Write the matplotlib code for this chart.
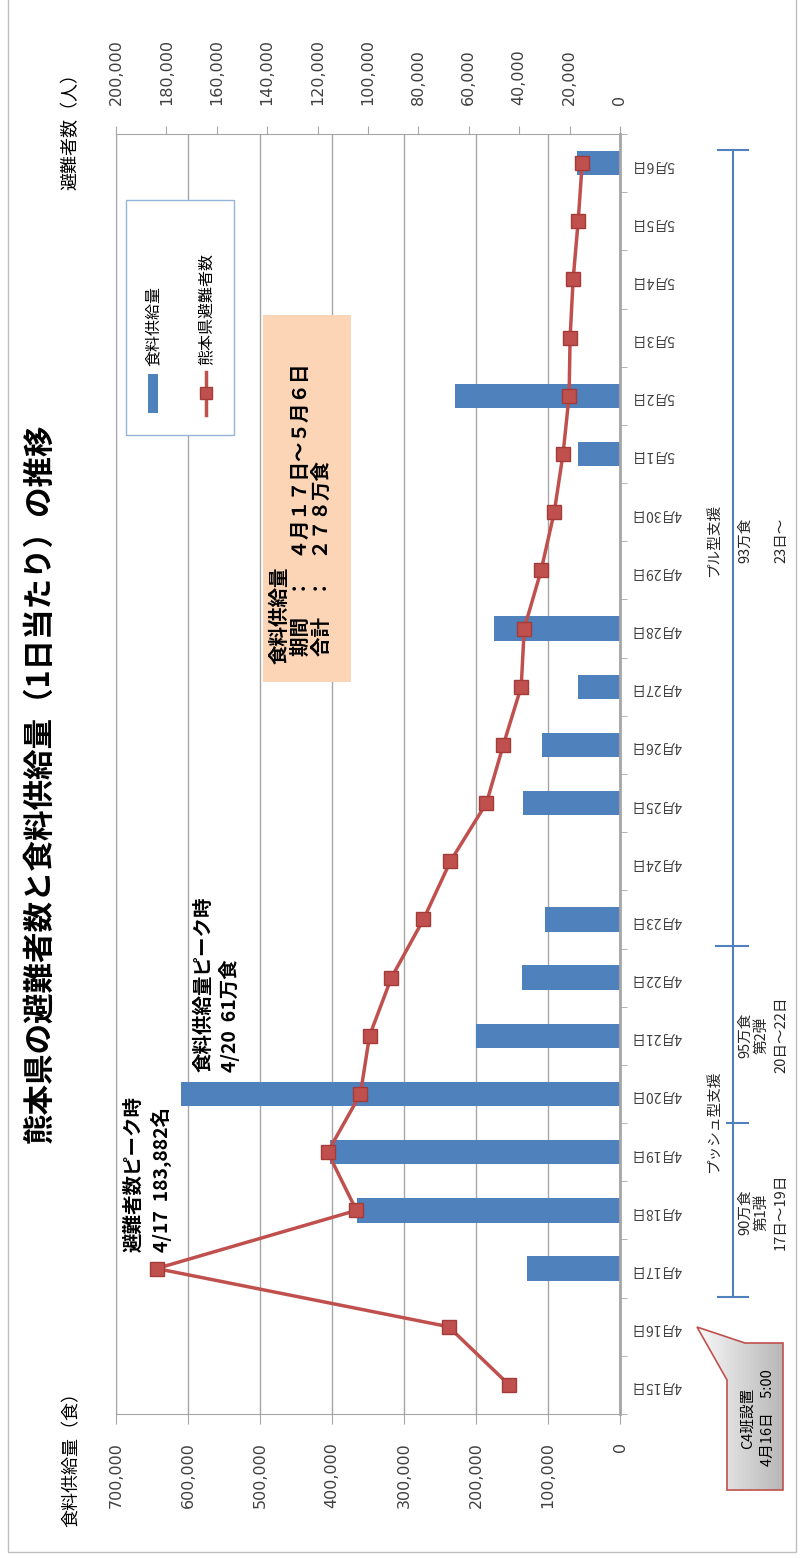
import numpy as np
import matplotlib.pyplot as plt
from matplotlib.patches import Rectangle, Polygon

plt.rcParams['font.family'] = ['Noto Sans CJK JP', 'DejaVu Sans']

# data
dates = ['4月15日', '4月16日', '4月17日', '4月18日', '4月19日', '4月20日', '4月21日',
         '4月22日', '4月23日', '4月24日', '4月25日', '4月26日', '4月27日', '4月28日',
         '4月29日', '4月30日', '5月1日', '5月2日', '5月3日', '5月4日', '5月5日', '5月6日']
food = [0, 0, 129000, 365000, 403000, 610000, 200000, 136000, 104000, 0, 135000,
        108000, 58000, 175000, 0, 0, 58000, 229000, 0, 0, 0, 60000]
evac = [44000, 68000, 183882, 104600, 116000, 103000, 99400, 90700, 78000, 67300, 53000,
        46300, 39200, 38000, 31300, 26100, 22600, 20200, 19800, 18600, 16600, 15000]
food_ticks = [0, 100000, 200000, 300000, 400000, 500000, 600000, 700000]
evac_ticks = [0, 20000, 40000, 60000, 80000, 100000, 120000, 140000, 160000, 180000, 200000]

W, H = 802, 1558
BLUE = '#4F81BD'
RED = '#C0504D'
GRAY = '#A6A6A6'

def fx(x):
    return x / W

def fy(y):
    return 1 - y / H

fig = plt.figure(figsize=(W / 100, H / 100), dpi=100)

#Main chart, drawn already turned on its side
ax = fig.add_axes([fx(116), fy(1414), fx(620) - fx(116), fy(134) - fy(1414)])
pos = np.arange(len(dates))
ax.barh(pos, food, height=0.42, color=BLUE, zorder=2)
ax.set_xlim(700000, 0)
ax.set_ylim(-0.5, len(dates) - 0.5)
ax.set_xticks(food_ticks)
ax.set_xticklabels([f'{v:,}' for v in food_ticks], rotation=90, fontsize=11.5,
                   family='DejaVu Sans', color='#404040')
ax.tick_params(axis='x', length=7, color=GRAY, pad=13)
ax.grid(axis='x', color=GRAY, lw=1, zorder=0)
ax.set_axisbelow(True)
ax.yaxis.tick_right()
ax.set_yticks(pos)
ax.set_yticklabels(dates, rotation=180, fontsize=10, color='#404040')
ax.set_yticks(np.arange(-0.5, len(dates)), minor=True)
ax.tick_params(axis='y', which='major', length=0, pad=8)
ax.tick_params(axis='y', which='minor', length=5, color=GRAY, right=True, left=False)
for s in ['top', 'bottom', 'left']:
    ax.spines[s].set_color(GRAY)
ax.spines['right'].set_color(GRAY)
ax.spines['right'].set_linewidth(2)

ax2 = ax.twiny()
ax2.plot(evac, pos, color=RED, lw=2.5, marker='s', ms=9.5, mfc=RED, mec='#A33B38',
         zorder=4)
ax2.set_xlim(200000, 0)
ax2.set_xticks(evac_ticks)
ax2.set_xticklabels([f'{v:,}' for v in evac_ticks], rotation=90, fontsize=11.5,
                    family='DejaVu Sans', color='#404040')
ax2.tick_params(axis='x', length=6, color=GRAY, pad=15)
for s in ax2.spines.values():
    s.set_visible(False)

#Overlay in pixel units for the texts and shapes
ov = fig.add_axes([0, 0, 1, 1])
ov.set_xlim(0, W)
ov.set_ylim(H, 0)
ov.axis('off')
ov.patch.set_alpha(0)
ov.set_zorder(5)

ov.add_patch(Rectangle((8, -2), 788, 1554, fill=False, ec='#BFBFBF', lw=1))

ov.text(40, 783, '熊本県の避難者数と食料供給量（1日当たり）の推移', rotation=90,
        ha='center', va='center', fontsize=22, fontweight='bold')
ov.text(71, 127, '避難者数（人）', rotation=90, ha='center', va='center', fontsize=13)
ov.text(72, 1455, '食料供給量（食）', rotation=90, ha='center', va='center', fontsize=13)

#Legend
ov.add_patch(Rectangle((126, 200), 108, 235, fc='white', ec='#95B3D7', lw=1))
ov.add_patch(Rectangle((148, 374), 10, 39, fc=BLUE, ec='none'))
ov.text(153, 366, '食料供給量', rotation=90, ha='center', va='bottom', fontsize=11.5)
ov.plot([206, 206], [372, 415], color=RED, lw=2.5)
ov.plot([206], [393], 's', ms=9, color=RED, mec='#A33B38')
ov.text(206, 365, '熊本県避難者数', rotation=90, ha='center', va='bottom', fontsize=11.5)

#Total box
ov.add_patch(Rectangle((263, 315), 88, 367, fc='#FBD5B5', ec='none'))
ov.text(280, 664, '食料供給量', rotation=90, ha='center', va='bottom', fontsize=14,
        fontweight='bold')
ov.text(301, 656, '期間　：　４月１７日～５月６日', rotation=90, ha='center', va='bottom',
        fontsize=14, fontweight='bold')
ov.text(322, 656, '合計　：　２７８万食', rotation=90, ha='center', va='bottom',
        fontsize=14, fontweight='bold')

#Peak notes
ov.text(134, 1252, '避難者数ピーク時', rotation=90, ha='center', va='bottom',
        fontsize=14, fontweight='bold')
ov.text(161, 1252, '4/17  183,882名', rotation=90, ha='center', va='bottom',
        fontsize=14, fontweight='bold')
ov.text(204, 1072, '食料供給量ピーク時', rotation=90, ha='center', va='bottom',
        fontsize=14, fontweight='bold')
ov.text(229, 1072, '4/20  61万食', rotation=90, ha='center', va='bottom',
        fontsize=14, fontweight='bold')

#Support bracket on the right
ov.plot([733, 733], [150, 1297], color=BLUE, lw=1.5)
for yy, x0 in [(150, 718), (946, 716), (1123, 727), (1297, 718)]:
    ov.plot([x0, 748], [yy, yy], color=BLUE, lw=1.5)
notes = [(714, 1122, 'プッシュ型支援'), (745, 1212, '90万食'), (762, 1212, '第1弾'),
         (781, 1212, '17日～19日'), (745, 1035, '95万食'), (762, 1035, '第2弾'),
         (781, 1035, '20日～22日'), (714, 540, 'プル型支援'), (745, 540, '93万食'),
         (781, 540, '23日～')]
for x, y, t in notes:
    ov.text(x, y, t, rotation=90, ha='center', va='center', fontsize=10.5, color='#262626')

#Callout
call = Polygon([(727, 1380), (697, 1327), (745, 1343), (783, 1343), (783, 1490),
                (727, 1490)], closed=True, fc='none', ec=RED, lw=1.2, zorder=3)
ov.add_patch(call)
grad = np.linspace(0.97, 0.72, 64).reshape(1, -1)
im = ov.imshow(grad, cmap='gray', vmin=0, vmax=1, extent=(697, 783, 1490, 1327),
               aspect='auto', zorder=2)
im.set_clip_path(call)
ov.set_xlim(0, W)
ov.set_ylim(H, 0)
ov.text(748, 1418, 'C4班設置', rotation=90, ha='center', va='center', fontsize=10.5)
ov.text(768, 1418, '4月16日　5:00', rotation=90, ha='center', va='center', fontsize=10.5)

fig.savefig('out.png', dpi=100)
